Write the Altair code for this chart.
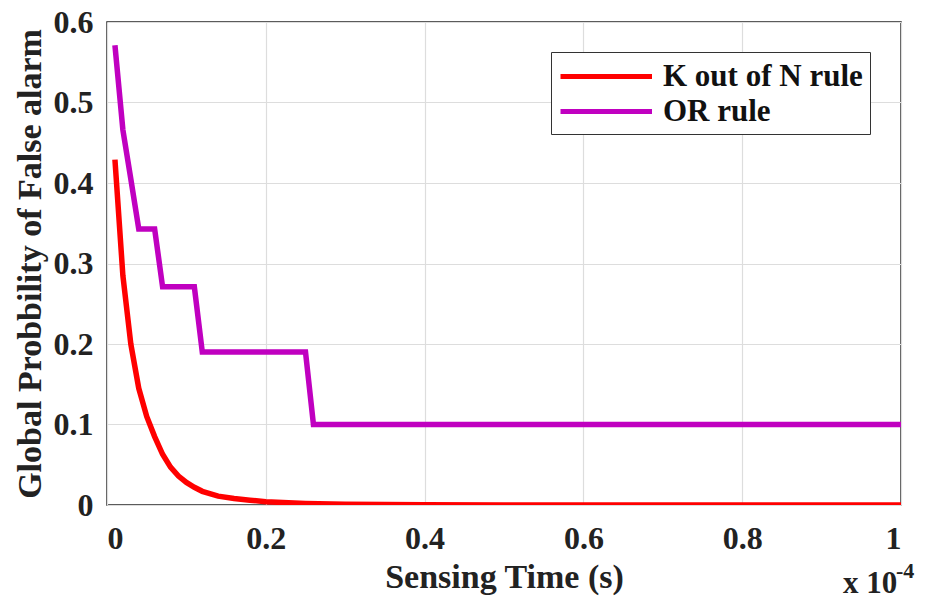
import altair as alt
import pandas as pd

# Sensing time in units of 1e-4 s
t_kn = [0.01, 0.02, 0.03, 0.04, 0.05, 0.06, 0.07, 0.08, 0.09, 0.10, 0.11, 0.12,
        0.14, 0.16, 0.18, 0.20, 0.25, 0.30, 0.40, 0.50, 0.60, 0.80, 1.00]
p_kn = [0.429, 0.285, 0.200, 0.145, 0.110, 0.085, 0.063, 0.047, 0.036, 0.028, 0.022, 0.017,
        0.011, 0.008, 0.006, 0.004, 0.002, 0.001, 0.0003, 0.0001, 0.0, 0.0, 0.0]

t_or = [0.01, 0.02, 0.03, 0.04, 0.06, 0.07, 0.11, 0.12, 0.25, 0.26, 1.00]
p_or = [0.571, 0.466, 0.405, 0.343, 0.343, 0.271, 0.271, 0.190, 0.190, 0.100, 0.100]

series = ["K out of N rule", "OR rule"]
colors = ["#FF0000", "#C000C0"]

x_ticks = [0, 0.2, 0.4, 0.6, 0.8, 1.0]
y_ticks = [0, 0.1, 0.2, 0.3, 0.4, 0.5, 0.6]

df = pd.concat([
    pd.DataFrame({"t": t_kn, "p": p_kn, "s": series[0], "o": range(len(t_kn))}),
    pd.DataFrame({"t": t_or, "p": p_or, "s": series[1], "o": range(len(t_or))}),
])

FONT = "Times New Roman, Liberation Serif, serif"

lines = alt.Chart(df).mark_line(strokeWidth=5.5, clip=True).encode(
    x=alt.X("t:Q", scale=alt.Scale(domain=[0, 1], nice=False),
            axis=alt.Axis(values=x_ticks, format="~g", title="Sensing Time (s)",
                          labelPadding=18, titlePadding=6, ticks=False)),
    y=alt.Y("p:Q", scale=alt.Scale(domain=[0, 0.6], nice=False),
            axis=alt.Axis(values=y_ticks, format="~g", title="Global Probbility of False alarm",
                          labelPadding=14, titlePadding=6, ticks=False)),
    color=alt.Color("s:N", scale=alt.Scale(domain=series, range=colors),
                    legend=alt.Legend(title=None, orient="none", legendX=444, legendY=30,
                                      symbolType="M-1,0L5.1,0", symbolSize=900,
                                      symbolStrokeWidth=5, symbolFillColor="transparent",
                                      labelFontSize=31, labelFont=FONT, labelFontWeight="bold",
                                      labelColor="#111111", labelOffset=70,
                                      fillColor="white", strokeColor="#333333", padding=7,
                                      rowPadding=2, labelLimit=400)),
    order="o:Q",
)

exp_txt = alt.Chart(pd.DataFrame({"txt": ["x 10"]})).mark_text(
    align="left", baseline="alphabetic", font=FONT, fontWeight="bold", fontSize=31, color="#222222"
).encode(x=alt.value(736), y=alt.value(571), text="txt:N")

exp_sup = alt.Chart(pd.DataFrame({"txt": ["-4"]})).mark_text(
    align="left", baseline="alphabetic", font=FONT, fontWeight="bold", fontSize=22, color="#222222"
).encode(x=alt.value(789), y=alt.value(556), text="txt:N")

chart = alt.layer(lines, exp_txt, exp_sup).properties(
    width=794, height=483,
    autosize=alt.AutoSizeParams(type="none"),
    padding={"left": 107, "top": 22, "right": 27, "bottom": 96},
    background="white",
).configure_view(
    stroke="#262626", strokeWidth=1.5
).configure_axis(
    labelFont=FONT, labelFontWeight="bold", labelFontSize=32, labelColor="#222222",
    titleFont=FONT, titleFontWeight="bold", titleFontSize=34, titleColor="#222222",
    grid=True, gridColor="#DDDDDD", gridWidth=1.2, domain=False,
)

chart.save("out.html", embed_options={"renderer": "svg", "actions": False})
